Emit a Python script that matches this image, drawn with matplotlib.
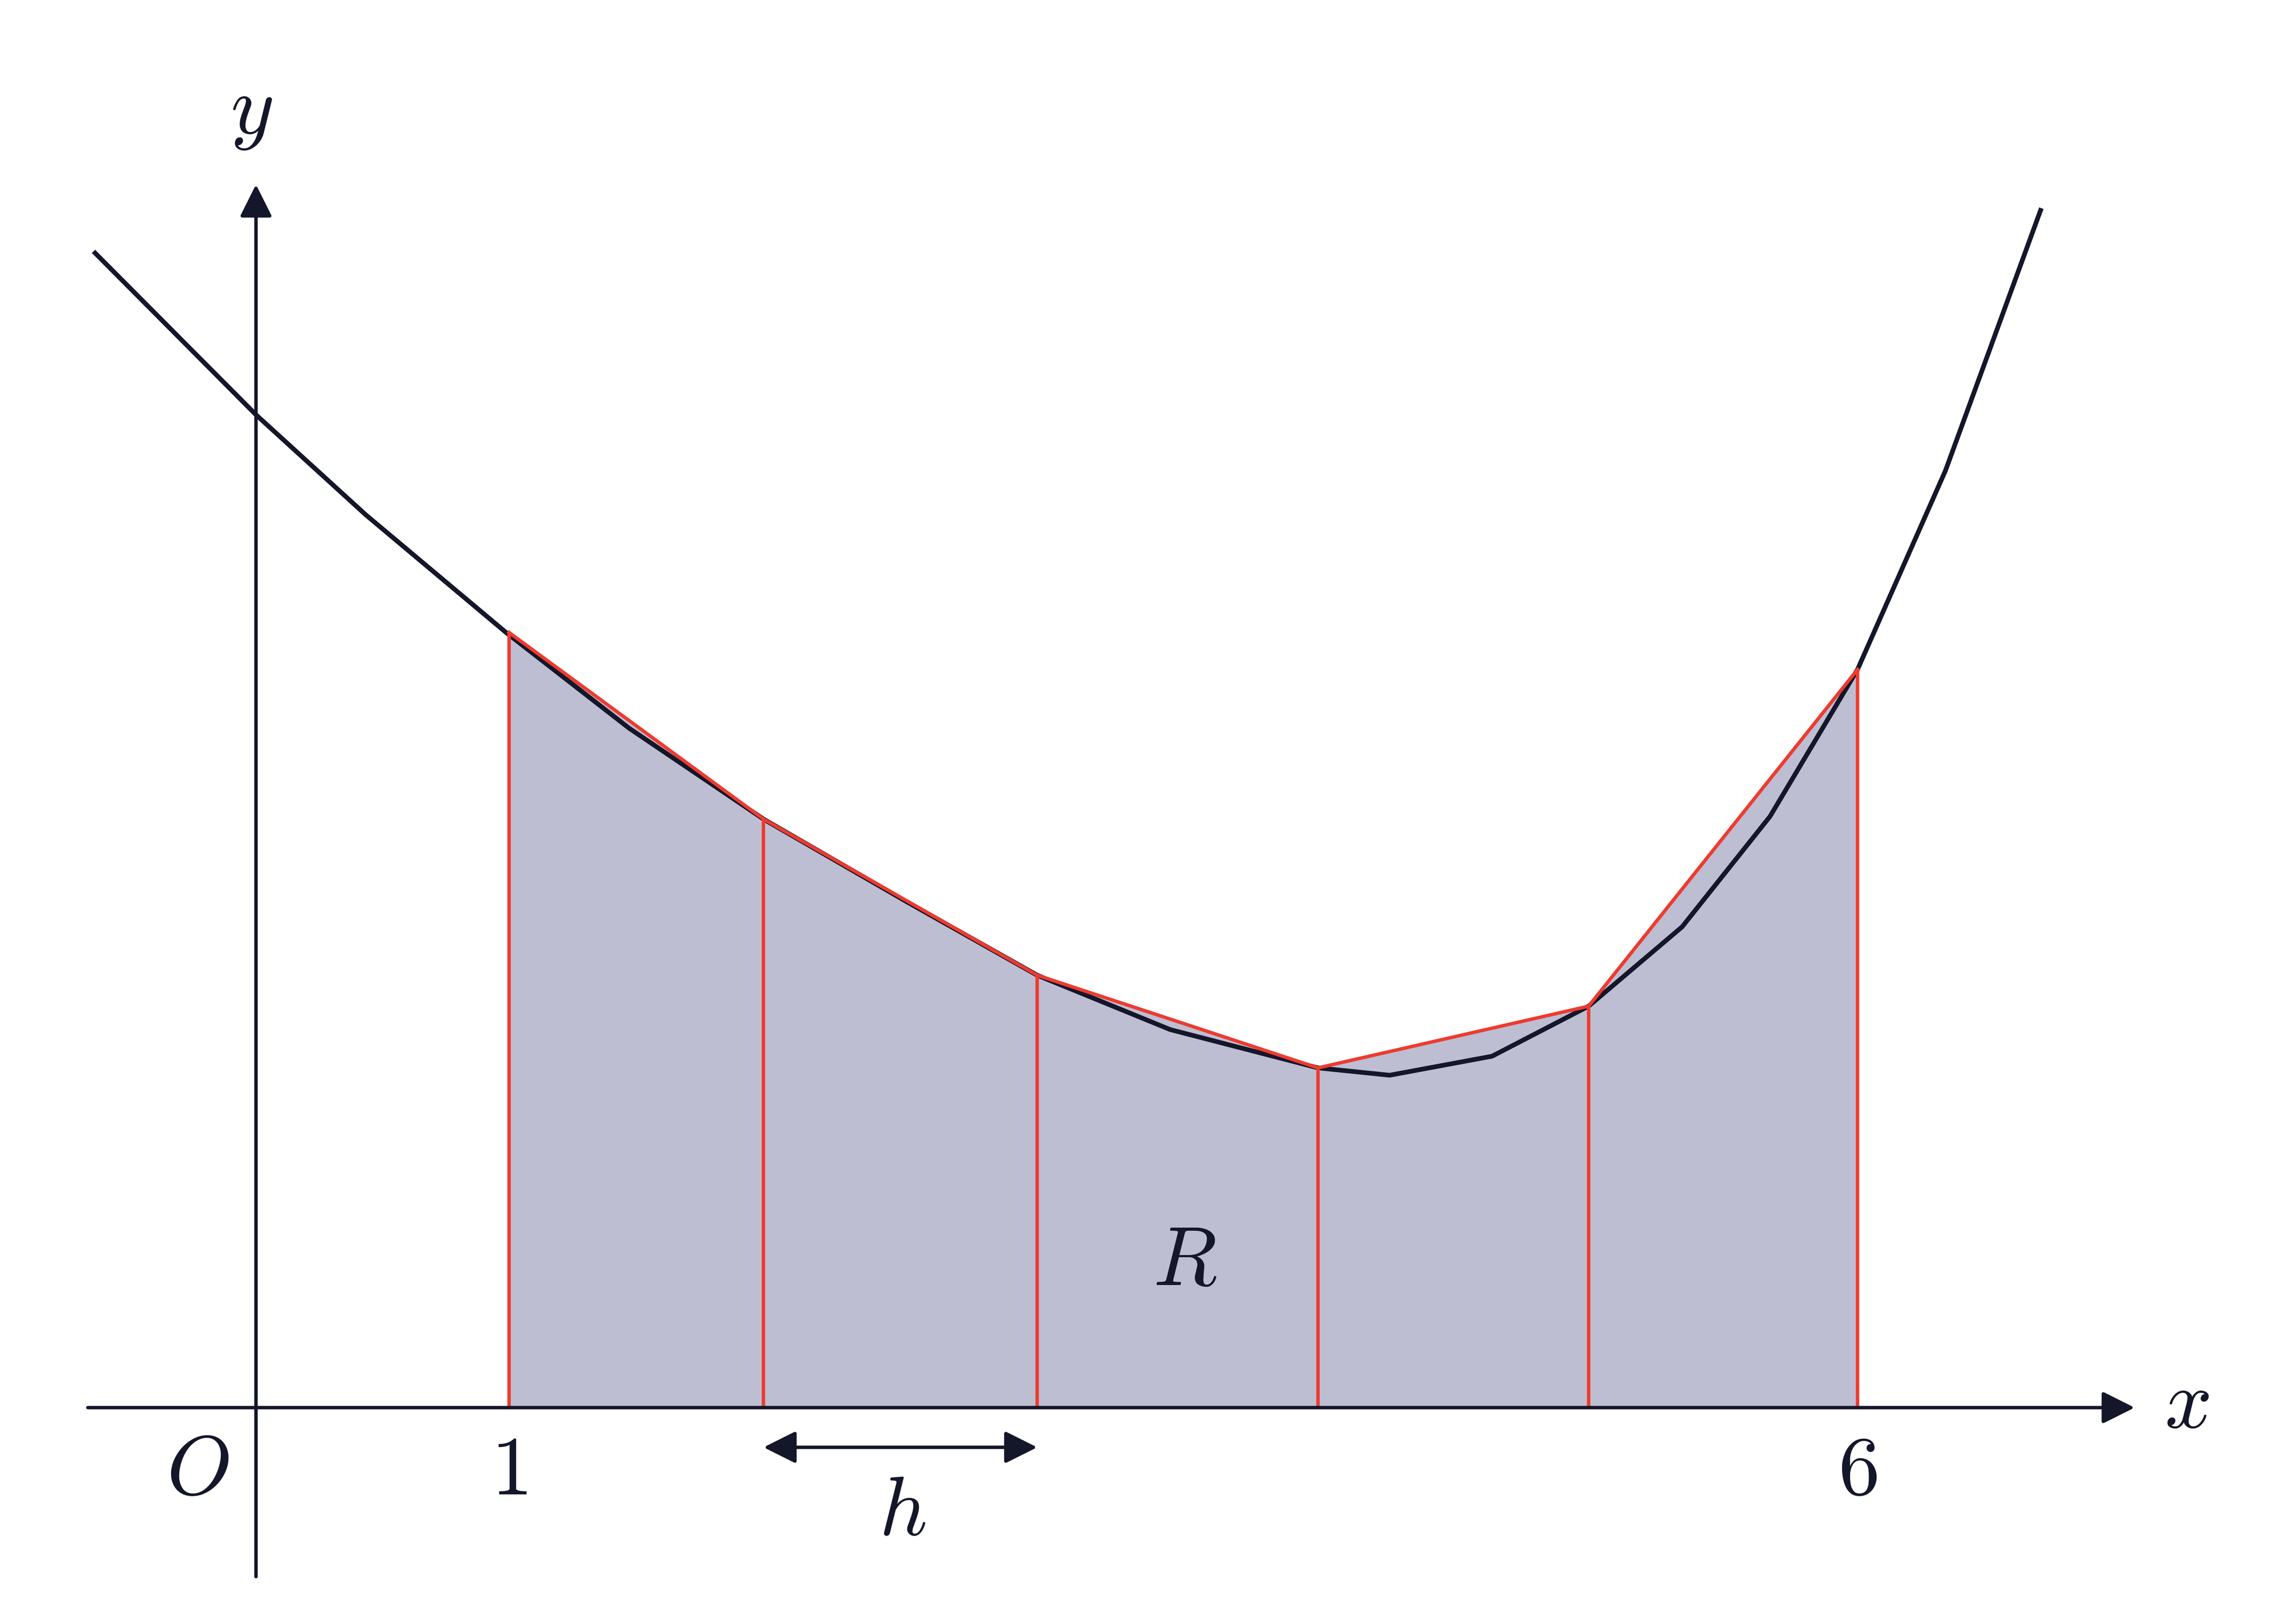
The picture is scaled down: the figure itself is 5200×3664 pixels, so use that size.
import matplotlib
matplotlib.use("Agg")
from matplotlib import pyplot as plt

plt.rcParams['mathtext.fontset'] = 'cm'

dark = "#14162a"
red = "#ee3b2f"
fill = "#bdbed2"

# curve
curve_x = [-0.595, 0.0, 0.406, 0.925, 1.380, 1.878, 2.408, 2.890, 3.382, 3.929,
           4.194, 4.573, 4.930, 5.276, 5.601, 5.925, 6.250, 6.602]
curve_y = [4.248, 3.653, 3.285, 2.852, 2.500, 2.165, 1.861, 1.591, 1.391, 1.250,
           1.223, 1.293, 1.477, 1.769, 2.175, 2.716, 3.447, 4.405]

# trapezium ordinates
strip_x = [0.936, 1.878, 2.890, 3.929, 4.930, 5.925]
strip_y = [2.852, 2.165, 1.591, 1.250, 1.477, 2.716]

fig = plt.figure(figsize=(13, 9.16), dpi=400)
ax = fig.add_axes([0, 0, 1, 1])
ax.set_xlim(-0.947, 7.547)
ax.set_ylim(-0.774, 5.179)
ax.axis('off')

ax.fill_between(strip_x, 0, strip_y, color=fill, lw=0, zorder=1)
ax.plot(curve_x, curve_y, color=dark, lw=1.9, zorder=3)
ax.plot(strip_x, strip_y, color=red, lw=1.4, zorder=4)
ax.vlines(strip_x, 0, strip_y, color=red, lw=1.4, zorder=4)

# axes with arrow heads
ax.annotate('', xy=(6.95, 0), xytext=(-0.622, 0),
            arrowprops=dict(arrowstyle='-|>', color=dark, lw=1.4, mutation_scale=28,
                            shrinkA=0, shrinkB=0), zorder=5)
ax.annotate('', xy=(0, 4.5), xytext=(0, -0.622),
            arrowprops=dict(arrowstyle='-|>', color=dark, lw=1.4, mutation_scale=28,
                            shrinkA=0, shrinkB=0), zorder=5)
ax.annotate('', xy=(2.89, -0.146), xytext=(1.878, -0.146),
            arrowprops=dict(arrowstyle='<|-|>', color=dark, lw=1.4, mutation_scale=28,
                            shrinkA=0, shrinkB=0), zorder=5)

fs = 34
ax.text(-0.016, 4.77, '$y$', fontsize=fs, color=dark, ha='center', va='center')
ax.text(7.143, 0.011, '$x$', fontsize=fs, color=dark, ha='center', va='center')
ax.text(-0.216, -0.233, '$O$', fontsize=fs, color=dark, ha='center', va='center')
ax.text(strip_x[0], -0.233, '$1$', fontsize=fs, color=dark, ha='center', va='center')
ax.text(strip_x[-1], -0.233, '$6$', fontsize=fs, color=dark, ha='center', va='center')
ax.text(2.392, -0.384, '$h$', fontsize=fs, color=dark, ha='center', va='center')
ax.text(3.436, 0.536, '$R$', fontsize=fs, color=dark, ha='center', va='center')

plt.savefig("out.png", dpi=400, facecolor="white")
